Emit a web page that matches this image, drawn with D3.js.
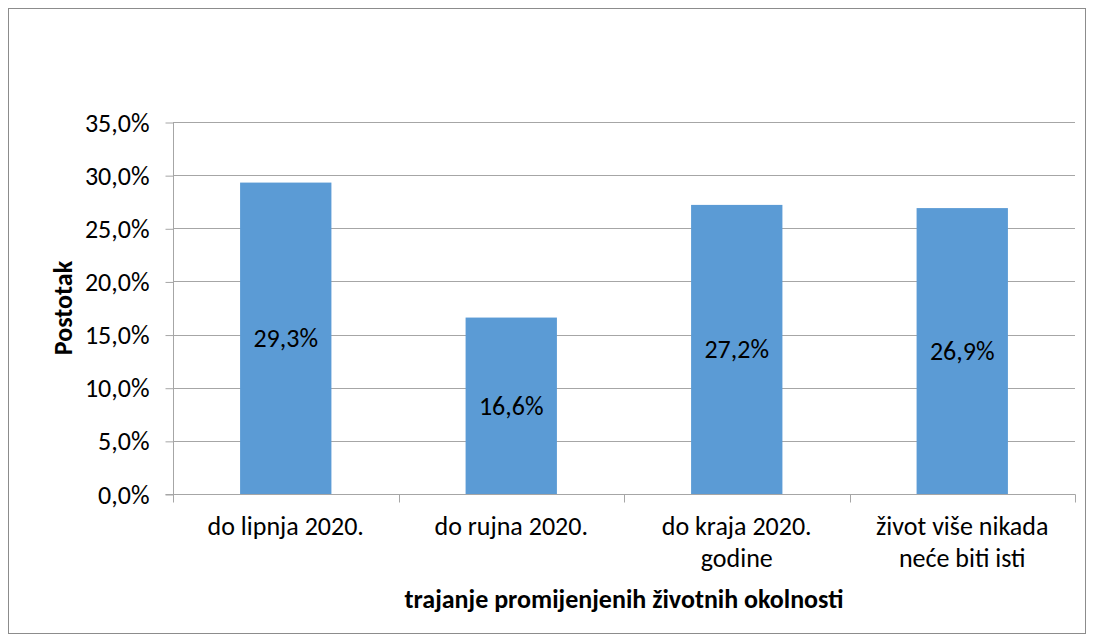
<!DOCTYPE html>
<html><head><meta charset="utf-8">
<script src="https://cdn.jsdelivr.net/npm/d3@7"></script>
<style>
html,body{margin:0;padding:0;background:#fff;}
svg{display:block;font-family:Carlito,Lato,"Open Sans",sans-serif;}
svg text{font-family:Carlito,Lato,"Open Sans",sans-serif;}
</style></head>
<body>
<svg id="chart" width="1094" height="642"></svg>
<script>
const categories = [["do lipnja 2020."], ["do rujna 2020."], ["do kraja 2020.", "godine"], ["život više nikada", "neće biti isti"]];
const values = [29.3, 16.6, 27.2, 26.9];
const yTicks = [0, 5, 10, 15, 20, 25, 30, 35];
const yTitle = "Postotak";
const xTitle = "trajanje promijenjenih životnih okolnosti";

const svg = d3.select("#chart");
const m = {left: 173, right: 1075, top: 122, bottom: 494};
const FS = 26;
const fmt = v => v.toFixed(1).replace(".", ",") + "%";

svg.append("rect").attr("x", 8.5).attr("y", 8.5).attr("width", 1077).attr("height", 625)
  .attr("fill", "#fff").attr("stroke", "#8c8c8c").attr("stroke-width", 1);

const x = d3.scaleBand().domain(categories.map((d, i) => i)).range([m.left, m.right]).paddingInner(0.595).paddingOuter(0.2975);
const y = d3.scaleLinear().domain([0, 35]).range([m.bottom, m.top]);

// gridlines
svg.append("g").selectAll("line").data(yTicks.filter(t => t > 0)).join("line")
  .attr("x1", m.left).attr("x2", m.right)
  .attr("y1", d => Math.round(y(d)) + 0.5).attr("y2", d => Math.round(y(d)) + 0.5)
  .attr("stroke", "#a6a6a6").attr("stroke-width", 1);

// bars
svg.append("g").selectAll("rect").data(values).join("rect")
  .attr("x", (d, i) => x(i)).attr("width", x.bandwidth())
  .attr("y", d => y(d)).attr("height", d => y(0) - y(d))
  .attr("fill", "#5b9bd5");

// y axis
const yAxis = d3.axisLeft(y).tickValues(yTicks).tickSize(8).tickPadding(16).tickFormat(fmt);
const gy = svg.append("g").attr("transform", `translate(${m.left + 0.5},0.5)`).call(yAxis)
  .attr("font-family", null).attr("font-size", FS);
gy.select(".domain").attr("stroke", "#a6a6a6").attr("d", `M0,${m.top}V${m.bottom}`);
gy.selectAll(".tick line").attr("stroke", "#a6a6a6");
gy.selectAll(".tick text").attr("font-size", FS).attr("fill", "#000").attr("dy", "0.33em");

// x axis
const xb = d3.scaleLinear().domain([0, 4]).range([m.left, m.right]);
const gx = svg.append("g").attr("transform", `translate(0.5,${m.bottom + 0.5})`);
gx.append("line").attr("x1", m.left - 8).attr("x2", m.right).attr("stroke", "#a6a6a6");
gx.selectAll("line.t").data(d3.range(5)).join("line").attr("class", "t")
  .attr("x1", d => Math.round(xb(d))).attr("x2", d => Math.round(xb(d)))
  .attr("y1", 0).attr("y2", 8).attr("stroke", "#a6a6a6");

// category labels
const cl = svg.append("g").selectAll("text").data(categories).join("text")
  .attr("text-anchor", "middle").attr("font-size", FS).attr("fill", "#000");
cl.each(function(d, i) {
  const t = d3.select(this);
  d.forEach((line, j) => {
    t.append("tspan").attr("x", x(i) + x.bandwidth() / 2).attr("y", 535 + j * 32).text(line);
  });
});

// data labels
svg.append("g").selectAll("text").data(values).join("text")
  .attr("x", (d, i) => x(i) + x.bandwidth() / 2)
  .attr("y", d => (y(d) + y(0)) / 2 + 9)
  .attr("text-anchor", "middle").attr("font-size", FS).attr("fill", "#000")
  .text(fmt);

// axis titles
svg.append("text").attr("x", (m.left + m.right) / 2).attr("y", 608)
  .attr("text-anchor", "middle").attr("font-size", FS).attr("font-weight", "bold").text(xTitle);
svg.append("text").attr("transform", "translate(72,308) rotate(-90)")
  .attr("text-anchor", "middle").attr("font-size", FS).attr("font-weight", "bold").text(yTitle);
</script>
</body></html>
